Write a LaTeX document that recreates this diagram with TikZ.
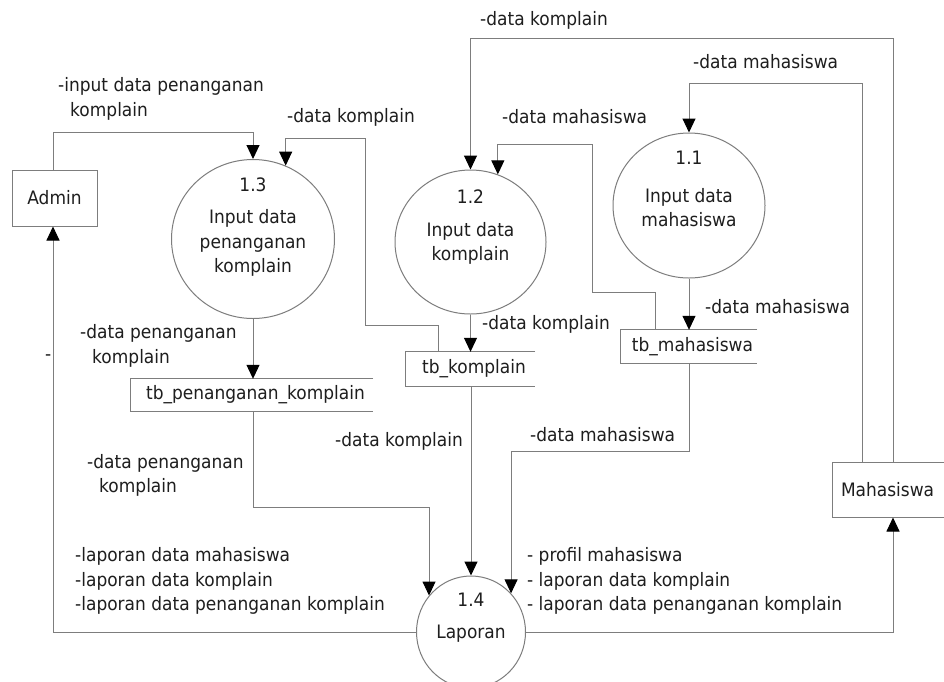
\documentclass[tikz,border=0pt]{standalone}
\usepackage{fontspec}
\setmainfont{DejaVu Sans}[FakeStretch=0.92]
\usetikzlibrary{arrows.meta,shapes.geometric,calc}
\definecolor{ln}{RGB}{125,125,125}
\definecolor{tx}{RGB}{30,30,30}
\begin{document}
\begin{tikzpicture}[x=1pt,y=-1pt,
  every node/.style={font=\fontsize{18.5}{24.5}\selectfont, text=tx, inner sep=0pt},
  flow/.style={draw=ln, line width=1pt, -{Triangle[width=13pt,length=14pt,black]}},
  plain/.style={draw=ln, line width=1pt},
  proc/.style={ellipse, draw=ln, line width=1pt},
  ent/.style={rectangle, draw=ln, line width=1pt},
  store/.style={rectangle},
  lbl/.style={anchor=west, align=left}]
\useasboundingbox (0,0) rectangle (944,681);
\fill[white] (0,0) rectangle (944,681);

% entities
\node[ent, minimum width=85pt, minimum height=56pt] (admin) at (54.5,198) {Admin};
\node[ent, minimum width=122pt, minimum height=55pt, text width=104pt, align=left] (mhs) at (893,489.5) {Mahasiswa};

% processes
\node[proc, minimum width=163pt, minimum height=159pt] (p13) at (253,239) {};
\node[proc, minimum width=151pt, minimum height=144pt] (p12) at (470.5,242) {};
\node[proc, minimum width=152pt, minimum height=145pt] (p11) at (689,205.5) {};
\node[proc, minimum width=109pt, minimum height=112pt] (p14) at (471,632) {};

\node (n13) at (253,185) {1.3};
\node[align=center] (t13) at (253,243) {Input data\\penanganan\\komplain};
\node (n12) at (470.5,197) {1.2};
\node[align=center] (t12) at (470.5,243.5) {Input data\\komplain};
\node (n11) at (689,158) {1.1};
\node[align=center] (t11) at (689,207.5) {Input data\\mahasiswa};
\node (n14) at (471,600) {1.4};
\node (t14) at (471,634) {Laporan};

% data stores
\node[store, minimum width=242pt, minimum height=32pt] (tbp) at (252,395) {\hspace*{7pt}tb\_penanganan\_komplain};
\node[store, minimum width=129pt, minimum height=34pt] (tbk) at (470.5,369) {\hspace*{7pt}tb\_komplain};
\node[store, minimum width=136pt, minimum height=33pt] (tbm) at (689,346.5) {\hspace*{7pt}tb\_mahasiswa};
\foreach \s in {tbp,tbk,tbm}{
  \draw[plain] (\s.north east) -- (\s.north west) -- (\s.south west) -- (\s.south east);
}

% flows
\draw[flow] (admin.north -| 53,0) -- (53,132) -| (p13.north);
\draw[flow] (tbk.north -| 438,0) -- (438,325) -- (365,325) -- (365,138) -| (p13.66);
\draw[flow] (mhs.north) -- (893,38) -| (p12.north);
\draw[flow] (mhs.north -| 862,0) -- (862,83) -| (p11.north);
\draw[flow] (tbm.north -| 655,0) -- (655,292) -- (592,292) -- (592,144) -| (p12.68);
\draw[flow] (p11.south) -- (tbm.north -| p11.south);
\draw[flow] (p12.south) -- (tbk.north -| p12.south);
\draw[flow] (p13.south) -- (tbp.north -| p13.south);
\draw[flow] (tbp.south -| p13.south) -- (253,507) -| (p14.139);
\draw[flow] (tbk.south -| p14.north) -- (p14.north);
\draw[flow] (tbm.south -| p11.south) -- (689,451) -| (p14.44);
\draw[flow] (p14.west) -| (admin.south -| 53,0);
\draw[flow] (p14.east) -| (mhs.south);

% labels
\node[lbl] (l1) at (58,99) {-input data penanganan\\\hspace*{12pt}komplain};
\node[lbl] (l2) at (287,117) {-data komplain};
\node[lbl] (l3) at (480,20) {-data komplain};
\node[lbl] (l4) at (502,117) {-data mahasiswa};
\node[lbl] (l5) at (693,62) {-data mahasiswa};
\node[lbl] (l6) at (705,307) {-data mahasiswa};
\node[lbl] (l7) at (482,324) {-data komplain};
\node[lbl] (l8) at (80,346) {-data penanganan\\\hspace*{12pt}komplain};
\node[lbl] (l9) at (45,358) {-};
\node[lbl] (l10) at (335,441) {-data komplain};
\node[lbl] (l11) at (530,435) {-data mahasiswa};
\node[lbl] (l12) at (87,475.5) {-data penanganan\\\hspace*{12pt}komplain};
\node[lbl] (l13) at (75,581) {-laporan data mahasiswa\\-laporan data komplain\\-laporan data penanganan komplain};
\node[lbl] (l14) at (527,581) {- profil mahasiswa\\- laporan data komplain\\- laporan data penanganan komplain};
\end{tikzpicture}
\end{document}
